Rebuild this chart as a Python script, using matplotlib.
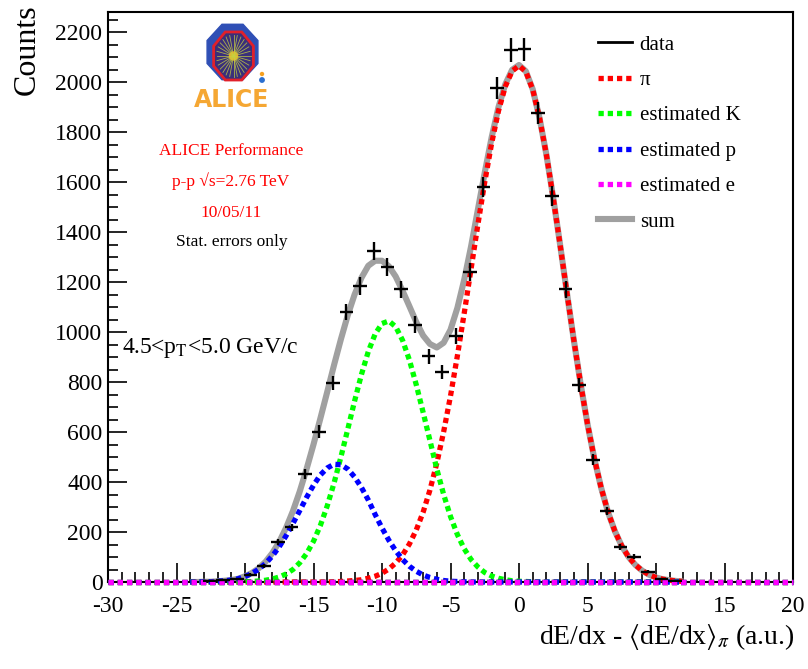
import numpy as np
import matplotlib
matplotlib.use("Agg")
import matplotlib.pyplot as plt
from matplotlib.lines import Line2D
from matplotlib.patches import Polygon, Circle
from matplotlib.ticker import MultipleLocator

plt.rcParams['font.family'] = ['Liberation Serif', 'DejaVu Serif']
plt.rcParams['mathtext.fontset'] = 'stix'
plt.rcParams['axes.unicode_minus'] = False

# ---------------- data ----------------
# measured histogram (bin centres, counts, stat. errors)
bin_x = [-22.6, -21.6, -20.6, -19.6, -18.6, -17.6, -16.6, -15.6, -14.6, -13.6,
         -12.6, -11.6, -10.6, -9.6, -8.6, -7.6, -6.6, -5.6, -4.6, -3.6,
         -2.6, -1.6, -0.6, 0.4, 1.4, 2.4, 3.4, 4.4, 5.4, 6.4,
         7.4, 8.4, 9.4, 10.4, 11.4]
counts = [3, 8, 14, 30, 64, 160, 219, 432, 602, 796,
          1080, 1184, 1324, 1261, 1171, 1030, 903, 841, 984, 1241,
          1579, 1975, 2128, 2131, 1875, 1545, 1171, 788, 490, 284,
          139, 101, 41, 12, 4]
count_err = [1.7, 2.8, 3.7, 5.5, 8.0, 12.6, 14.8, 20.8, 24.5, 28.2,
             32.9, 34.4, 36.4, 35.5, 34.2, 32.1, 30.0, 29.0, 31.4, 35.2,
             39.7, 44.4, 46.1, 46.2, 43.3, 39.3, 34.2, 28.1, 22.1, 16.9,
             11.8, 10.0, 6.4, 3.5, 2.0]
bin_half_width = 0.5

# fitted component curves, read on a common grid
curve_x = np.arange(-24.0, 12.01, 0.5)
pion = [0]*21 + [1, 2, 4, 6, 9, 15, 23, 35, 52, 76, 108, 152, 208, 279, 368, 475,
                 601, 744, 904, 1075, 1252, 1430, 1600, 1754, 1884, 1982, 2044,
                 2065, 2041, 1970, 1856, 1709, 1536, 1349, 1156, 968, 792, 632,
                 493, 376, 279, 203, 144, 100, 68, 45, 29, 18, 11, 7, 4, 2]
kaon = [0]*8 + [1, 2, 4, 7, 12, 20, 32, 50, 77, 114, 163, 226, 304, 396, 500, 611,
                724, 830, 922, 992, 1034, 1044, 1021, 967, 888, 789, 679, 566,
                452, 350, 262, 190, 133, 90, 60, 38, 24, 15, 9, 5, 3, 2, 1] + [0]*22
proton = [0, 0, 1, 1, 3, 5, 8, 13, 22, 34, 51, 74, 104, 141, 185, 234, 286, 339,
          387, 428, 456, 471, 469, 452, 420, 378, 328, 270, 216, 167, 125, 90,
          63, 43, 28, 18, 11, 6, 3, 2, 1] + [0]*32
electron_x = [-30, 20]
electron = [0, 0]
total = np.array(pion) + np.array(kaon) + np.array(proton)

# ---------------- figure ----------------
W, H = 808, 669
fig = plt.figure(figsize=(W/100, H/100), dpi=100)
def fx(px): return px / W
def fy(py): return 1 - py / H

ax = fig.add_axes([fx(108), fy(582), (793-108)/W, (582-12)/H])
ax.set_xlim(-30, 20)
ax.set_ylim(0, 2280)

ax.plot(curve_x, total, color='#a0a0a0', lw=4.4, solid_capstyle='butt', zorder=2)
dots = (0, (1, 0.75))
LW = 3.8
ax.plot(curve_x, pion, color='#ff0000', lw=LW, ls=dots, zorder=3, clip_on=False)
ax.plot(curve_x, kaon, color='#00ff00', lw=LW, ls=dots, zorder=3, clip_on=False)
ax.plot(curve_x, proton, color='#0000ff', lw=LW, ls=dots, zorder=3, clip_on=False)
# zero-level extension of the components across the full range
for c in ['#ff0000', '#00ff00', '#0000ff']:
    ax.plot(electron_x, electron, color=c, lw=LW, ls=dots, zorder=3, clip_on=False)
ax.plot(electron_x, electron, color='#ff00ff', lw=LW, ls=dots, zorder=4, clip_on=False)
ax.errorbar(bin_x, counts, xerr=bin_half_width, yerr=count_err, fmt='none',
            ecolor='black', elinewidth=1.7, capsize=0, zorder=5)

for s in ax.spines.values():
    s.set_linewidth(1.5)
ax.xaxis.set_major_locator(MultipleLocator(5))
ax.xaxis.set_minor_locator(MultipleLocator(1))
ax.yaxis.set_major_locator(MultipleLocator(200))
ax.yaxis.set_minor_locator(MultipleLocator(50))
ax.tick_params(which='both', direction='in', top=False, right=False, width=1.2)
ax.tick_params(which='major', length=14, labelsize=17)
ax.tick_params(which='minor', length=7)
ax.tick_params(axis='x', which='major', pad=10)
ax.tick_params(axis='y', which='major', pad=4)

# axis titles
fig.text(fx(27), fy(50), 'Counts', rotation=90, ha='center', va='center', fontsize=23)
fig.text(fx(795), fy(637), r'dE/dx - $\langle$dE/dx$\rangle_{\pi}$ (a.u.)',
         ha='right', va='center', fontsize=20)

# legend
handles = [
    Line2D([], [], color='black', lw=2),
    Line2D([], [], color='#ff0000', lw=LW, ls=dots),
    Line2D([], [], color='#00ff00', lw=LW, ls=dots),
    Line2D([], [], color='#0000ff', lw=LW, ls=dots),
    Line2D([], [], color='#ff00ff', lw=LW, ls=dots),
    Line2D([], [], color='#a0a0a0', lw=4.4),
]
labels = ['data', 'π', 'estimated K', 'estimated p', 'estimated e', 'sum']
fig.legend(handles, labels, loc='upper left', bbox_to_anchor=(fx(598), fy(35)),
           frameon=False, fontsize=15, handlelength=1.65, handletextpad=0.35,
           labelspacing=0.76, borderpad=0, borderaxespad=0)

# annotations
fig.text(fx(231), fy(151), 'ALICE Performance', color='red', ha='center', va='center', fontsize=12.5)
fig.text(fx(231), fy(181), 'p-p √s=2.76 TeV', color='red', ha='center', va='center', fontsize=12.5)
fig.text(fx(231), fy(213), '10/05/11', color='red', ha='center', va='center', fontsize=12.5)
fig.text(fx(232), fy(242), 'Stat. errors only', color='black', ha='center', va='center', fontsize=12.5)
fig.text(fx(122), fy(348), r'4.5<p$_{\mathrm{T}}$<5.0 GeV/c', ha='left', va='center', fontsize=17)

# ALICE logo (drawn)
lx0, lx1, ly0, ly1 = 190, 275, 15, 118
lax = fig.add_axes([fx(lx0), fy(ly1), (lx1-lx0)/W, (ly1-ly0)/H])
lax.set_xlim(lx0, lx1); lax.set_ylim(ly1, ly0); lax.axis('off')
ang = np.deg2rad(22.5 + 45*np.arange(8))
lax.add_patch(Polygon(np.c_[232.5 + 27.5*np.cos(ang), 52 + 30*np.sin(ang)],
                      closed=True, fc='#2f4fb5', ec='#2f4fb5'))
lax.add_patch(Polygon(np.c_[233.5 + 21.5*np.cos(ang), 56 + 26*np.sin(ang)],
                      closed=True, fc='#3a2f7a', ec='#e0202a', lw=2))
for a in np.linspace(0, 2*np.pi, 28, endpoint=False):
    lax.plot([233.5, 233.5 + 17*np.cos(a)], [56, 56 + 21*np.sin(a)],
             color='#c8d040', lw=0.6, alpha=0.8)
lax.add_patch(Circle((233.5, 56), 4, color='#f5a020'))
lax.add_patch(Circle((262, 80), 2.2, color='#2a6fd0'))
lax.add_patch(Circle((262, 74), 1.5, color='#f5a020'))
lax.text(232, 100, 'ALICE', color='#f5a733', fontsize=17, fontweight='bold',
         family=['DejaVu Sans'], ha='center', va='center')

fig.savefig('out.png', dpi=100)
